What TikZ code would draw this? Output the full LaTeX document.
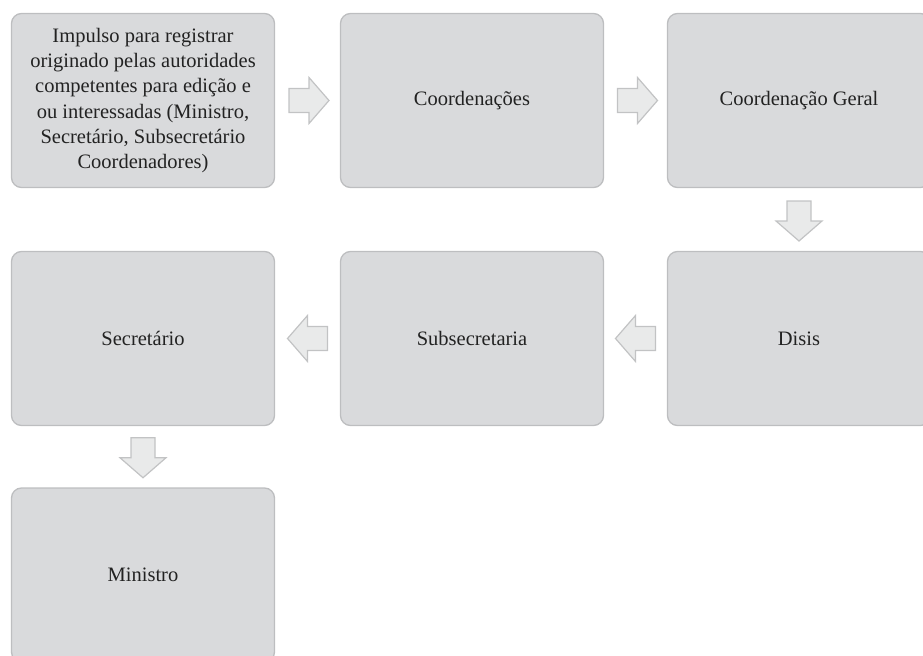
\documentclass[tikz,border=0pt]{standalone}
\usepackage{fontspec}
\setmainfont{Liberation Serif}
\usetikzlibrary{calc}
\definecolor{boxfill}{HTML}{D9DADC}
\definecolor{boxline}{HTML}{BDBEC0}
\definecolor{arrfill}{HTML}{E9EAEA}
\definecolor{arrline}{HTML}{C2C3C4}
\definecolor{txt}{HTML}{222222}
\tikzset{
  stepbox/.style={rectangle, rounded corners=10bp, draw=boxline, line width=1.3bp,
    fill=boxfill, minimum width=263bp, minimum height=174bp, inner sep=0pt,
    font=\fontsize{20.5bp}{25.2bp}\selectfont, text=txt, align=center},
  fatarrow/.pic={
    \draw[draw=arrline, fill=arrfill, line width=1.2bp, line join=miter]
      (-20,-12) -- (0,-12) -- (0,-23) -- (20,0) -- (0,23) -- (0,12) -- (-20,12) -- cycle;
  }
}
\begin{document}
\begin{tikzpicture}[x=1bp, y=-1bp]
\useasboundingbox (0,0) rectangle (923,656);
\clip (0,0) rectangle (923,656);
% process boxes
\node[stepbox] (imp) at (143,100.5) {Impulso para registrar\\originado pelas autoridades\\competentes para edição e\\ou interessadas (Ministro,\\Secretário, Subsecretário\\Coordenadores)};
\node[stepbox] (coord) at (472,100.5) {Coordenações};
\node[stepbox] (cgeral) at (799,100.5) {Coordenação Geral};
\node[stepbox] (disis) at (799,338.5) {Disis};
\node[stepbox] (subsec) at (472,338.5) {Subsecretaria};
\node[stepbox] (secr) at (143,338.5) {Secretário};
\node[stepbox] (min) at (143,575) {Ministro};
% block arrows between the boxes
\pic at ($(imp.east)!0.5!(coord.west)+(1.5,0)$) {fatarrow};
\pic at ($(coord.east)!0.5!(cgeral.west)+(2,0)$) {fatarrow};
\pic[rotate=-90] at ($(cgeral.south)!0.5!(disis.north)+(0,1.5)$) {fatarrow};
\pic[rotate=180] at ($(disis.west)!0.5!(subsec.east)$) {fatarrow};
\pic[rotate=180] at ($(subsec.west)!0.5!(secr.east)+(0,0)$) {fatarrow};
\pic[rotate=-90] at ($(secr.south)!0.5!(min.north)+(0,1)$) {fatarrow};
\end{tikzpicture}
\end{document}
